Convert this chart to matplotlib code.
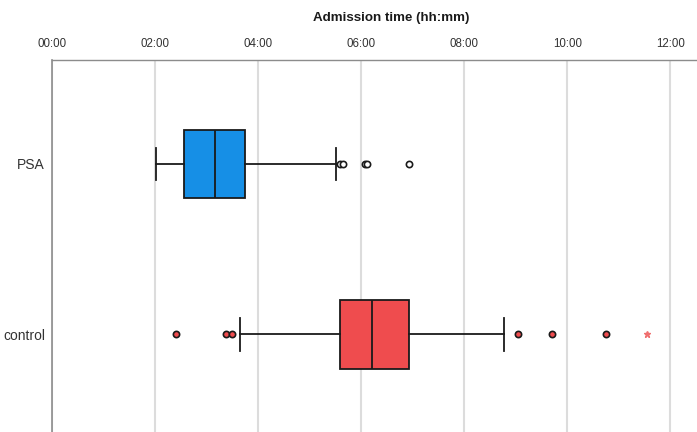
import matplotlib.pyplot as plt
from matplotlib.ticker import FixedLocator

plt.rcParams['font.family'] = ['Liberation Sans', 'DejaVu Sans']

# box statistics, in hours after midnight
groups = ['PSA', 'control']
whis_lo = [2.02, 3.64]
q1 = [2.57, 5.59]
medians = [3.16, 6.22]
q3 = [3.75, 6.92]
whis_hi = [5.51, 8.78]
outliers = [
    [5.60, 5.64, 6.08, 6.12, 6.92],
    [2.41, 3.38, 3.50, 9.04, 9.70, 10.75],
]
extremes = [[], [11.55]]
box_colors = ['#168fe6', '#ef4c4e']
flier_fill = ['white', '#ef4c4e']

tick_hours = [0, 2, 4, 6, 8, 10, 12]
tick_labels = ['00:00', '02:00', '04:00', '06:00', '08:00', '10:00', '12:00']

fig = plt.figure(figsize=(6.97, 4.32), dpi=100)
ax = fig.add_axes([52 / 697, 0.0, 1 - 52 / 697, 1 - 60 / 432])

stats = []
for i, g in enumerate(groups):
    stats.append(dict(label=g, whislo=whis_lo[i], q1=q1[i], med=medians[i],
                      q3=q3[i], whishi=whis_hi[i], fliers=[]))

bp = ax.bxp(stats, positions=range(len(groups)), vert=False, widths=0.40,
            capwidths=0.19, patch_artist=True, showfliers=False,
            boxprops=dict(linewidth=1.3, edgecolor='#1a1a1a'),
            medianprops=dict(color='#1a1a1a', linewidth=1.3),
            whiskerprops=dict(color='#1a1a1a', linewidth=1.3),
            capprops=dict(color='#1a1a1a', linewidth=1.3), zorder=3)
for patch, c in zip(bp['boxes'], box_colors):
    patch.set_facecolor(c)

for i in range(len(groups)):
    ax.plot(outliers[i], [i] * len(outliers[i]), 'o', ms=4.5,
            mfc=flier_fill[i], mec='#1a1a1a', mew=1.2, zorder=4)
    ax.plot(extremes[i], [i] * len(extremes[i]), '*', ms=5,
            color='#f07070', zorder=4)

ax.set_xlim(0, 12.52)
ax.set_ylim(1.572, -0.61)

ax.xaxis.set_major_locator(FixedLocator(tick_hours))
ax.set_xticklabels(tick_labels)
ax.xaxis.tick_top()
ax.tick_params(axis='x', length=0, pad=7, labelsize=8.3, labelcolor='#333333')
ax.tick_params(axis='y', length=0, pad=5, labelsize=10, labelcolor='#333333')
ax.grid(axis='x', color='#dcdcdc', linewidth=1.5, zorder=0)
ax.set_axisbelow(True)

for s in ['right', 'bottom']:
    ax.spines[s].set_visible(False)
ax.spines['left'].set_color('#8c8c8c')
ax.spines['left'].set_linewidth(1.2)
ax.spines['top'].set_color('#8c8c8c')
ax.spines['top'].set_linewidth(1.0)

fig.text(391 / 697, 1 - 18 / 432, 'Admission time (hh:mm)', ha='center',
         va='center', fontsize=9.6, fontweight='bold', color='#1a1a1a')

fig.savefig('out.png', dpi=100)
